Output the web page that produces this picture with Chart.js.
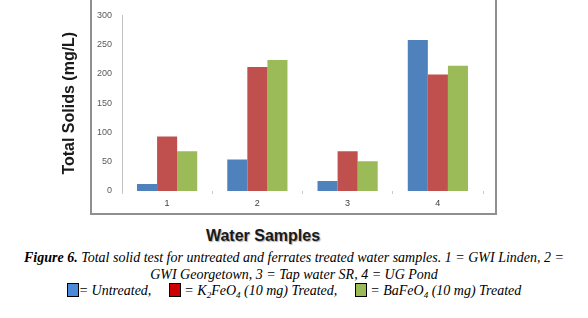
<!DOCTYPE html>
<html>
<head>
<meta charset="utf-8">
<title>Total Solids</title>
<script src="https://cdn.jsdelivr.net/npm/chart.js"></script>
<style>
  html, body { margin: 0; padding: 0; background: #fff; }
  body { width: 588px; height: 318px; position: relative; overflow: hidden; }
  #wrap { position: absolute; left: 0; top: 0; width: 500px; height: 215px; }
  #frame { position: absolute; left: 90px; top: -3px; width: 403px; height: 214px;
           border: 2px solid #8f8f8f; pointer-events: none; }
  #xtitle { position: absolute; left: 0; width: 526px; top: 227px; text-align: center;
            font: bold 16px "Liberation Sans", Arial, sans-serif; color: #1a1a1a;
            text-shadow: 1px 1px 1px #aaa; }
  #caption { position: absolute; left: 0; width: 588px; top: 250px; text-align: center;
             font: italic 14px "Liberation Serif", "Times New Roman", serif; line-height: 16.5px; color: #000; }
  .sw { display: inline-block; width: 10px; height: 12px; border: 1px solid #000; vertical-align: -2px; }
  .gap { display: inline-block; width: 14px; }
  sub { font-size: 9px; vertical-align: -3px; line-height: 0; }
</style>
</head>
<body>
<div id="wrap"><canvas id="chart"></canvas></div>
<div id="frame"></div>
<div id="xtitle">Water Samples</div>
<div id="caption">
  <b>Figure 6.</b> Total solid test for untreated and ferrates treated water samples. 1 = GWI Linden, 2 =<br>
  GWI Georgetown, 3 = Tap water SR, 4 = UG Pond<br>
  <span class="sw" style="background:#4a8ad6"></span>= Untreated,<span class="gap"></span>
  <span class="sw" style="background:#cc0000"></span> = K<sub>2</sub>FeO<sub>4</sub> (10 mg) Treated,<span class="gap"></span>
  <span class="sw" style="background:#9bbb59"></span> = BaFeO<sub>4</sub> (10 mg) Treated
</div>
<script>
const samples = ['1', '2', '3', '4'];
const untreated = [12, 54, 17, 258];
const k2feo4 = [93, 212, 68, 199];
const bafeo4 = [68, 224, 51, 214];
const yTicks = [0, 50, 100, 150, 200, 250, 300];

const ctx = document.getElementById('chart').getContext('2d');
new Chart(ctx, {
  type: 'bar',
  data: {
    labels: samples,
    datasets: [
      { label: 'Untreated', data: untreated, backgroundColor: '#4f81bd' },
      { label: 'K2FeO4 (10 mg) Treated', data: k2feo4, backgroundColor: '#c0504d' },
      { label: 'BaFeO4 (10 mg) Treated', data: bafeo4, backgroundColor: '#9bbb59' }
    ]
  },
  options: {
    responsive: true,
    maintainAspectRatio: false,
    animation: false,
    datasets: { bar: { categoryPercentage: 0.667, barPercentage: 1.0 } },
    layout: { padding: { left: 56, top: 13, right: 17, bottom: 0 } },
    plugins: { legend: { display: false }, tooltip: { enabled: false } },
    scales: {
      x: {
        grid: { display: true, drawOnChartArea: false, offset: true, tickLength: 3, color: '#c8c8c8' },
        border: { display: false },
        ticks: { padding: 4, color: '#404040', font: { family: 'Liberation Sans', size: 9 } },
        afterFit: s => { s.height = 24; }
      },
      y: {
        min: 0, max: 300,
        afterBuildTicks: s => { s.ticks = yTicks.map(v => ({ value: v })); },
        grid: { display: false, drawTicks: false },
        border: { display: true, color: '#c0c0c0', width: 1 },
        ticks: { padding: 10, color: '#595959', font: { family: 'Liberation Sans', size: 9 } },
        title: { display: true, text: 'Total Solids (mg/L)', color: '#1a1a1a',
                 font: { family: 'Liberation Sans', size: 16, weight: 'bold' } },
        afterFit: s => { s.width = 66; }
      }
    }
  }
});
</script>
</body>
</html>
